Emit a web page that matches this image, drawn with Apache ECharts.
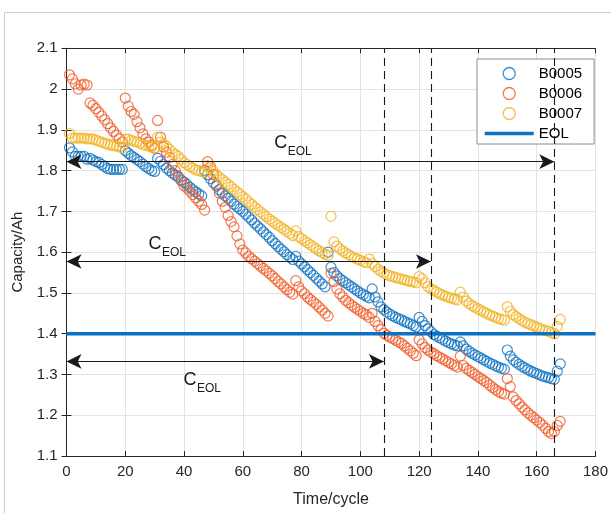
<!DOCTYPE html>
<html>
<head>
<meta charset="utf-8">
<script src="https://cdn.jsdelivr.net/npm/echarts@6/dist/echarts.min.js"></script>
<style>
html, body { margin: 0; padding: 0; background: #ffffff; }
#chart { width: 611px; height: 513px; }
</style>
</head>
<body>
<div id="chart"></div>
<script>
// Discharge capacity (Ah) per cycle, cycles 1..168
const b0005 = [
  1.856, 1.846, 1.835, 1.835, 1.835, 1.835, 1.828, 1.830, 1.826, 1.822,
  1.820, 1.815, 1.810, 1.805, 1.803, 1.803, 1.803, 1.803, 1.803, 1.849,
  1.843, 1.837, 1.832, 1.827, 1.822, 1.816, 1.810, 1.805, 1.800, 1.798,
  1.830, 1.823, 1.815, 1.806, 1.800, 1.794, 1.789, 1.784, 1.777, 1.772,
  1.766, 1.759, 1.753, 1.748, 1.743, 1.738, 1.800, 1.790, 1.780, 1.770,
  1.762, 1.753, 1.745, 1.738, 1.732, 1.725, 1.718, 1.712, 1.706, 1.700,
  1.693, 1.686, 1.679, 1.671, 1.664, 1.657, 1.650, 1.643, 1.636, 1.628,
  1.621, 1.614, 1.607, 1.601, 1.594, 1.588, 1.582, 1.590, 1.578, 1.571,
  1.564, 1.557, 1.550, 1.543, 1.536, 1.529, 1.522, 1.515, 1.600, 1.563,
  1.550, 1.542, 1.535, 1.530, 1.525, 1.520, 1.515, 1.510, 1.505, 1.500,
  1.496, 1.492, 1.488, 1.510, 1.490, 1.478, 1.466, 1.459, 1.453, 1.448,
  1.444, 1.440, 1.437, 1.434, 1.430, 1.427, 1.424, 1.420, 1.417, 1.440,
  1.430, 1.420, 1.412, 1.405, 1.398, 1.394, 1.390, 1.386, 1.382, 1.378,
  1.375, 1.372, 1.370, 1.380, 1.370, 1.362, 1.357, 1.352, 1.348, 1.344,
  1.340, 1.336, 1.332, 1.328, 1.325, 1.321, 1.318, 1.315, 1.313, 1.360,
  1.345, 1.336, 1.330, 1.325, 1.320, 1.316, 1.312, 1.308, 1.305, 1.302,
  1.299, 1.296, 1.294, 1.292, 1.290, 1.288, 1.308, 1.326
];
const b0006 = [
  2.035, 2.025, 2.013, 2.000, 2.010, 2.012, 2.010, 1.966, 1.960, 1.952,
  1.943, 1.934, 1.925, 1.915, 1.905, 1.896, 1.887, 1.878, 1.870, 1.978,
  1.958, 1.945, 1.938, 1.920, 1.905, 1.890, 1.878, 1.870, 1.862, 1.855,
  1.923, 1.882, 1.858, 1.845, 1.832, 1.815, 1.800, 1.787, 1.775, 1.763,
  1.757, 1.749, 1.741, 1.733, 1.725, 1.717, 1.703, 1.822, 1.810, 1.790,
  1.765, 1.745, 1.725, 1.710, 1.690, 1.675, 1.662, 1.640, 1.620, 1.605,
  1.598, 1.590, 1.584, 1.578, 1.572, 1.566, 1.560, 1.554, 1.548, 1.542,
  1.535, 1.528, 1.522, 1.515, 1.508, 1.502, 1.497, 1.530, 1.515, 1.505,
  1.498, 1.490, 1.484, 1.478, 1.472, 1.465, 1.458, 1.450, 1.443, 1.548,
  1.528, 1.510, 1.498, 1.490, 1.482, 1.476, 1.470, 1.465, 1.460, 1.455,
  1.450, 1.446, 1.440, 1.450, 1.430, 1.420, 1.410, 1.401, 1.396, 1.392,
  1.388, 1.384, 1.380, 1.376, 1.370, 1.364, 1.358, 1.352, 1.346, 1.385,
  1.375, 1.366, 1.360, 1.355, 1.351, 1.346, 1.342, 1.338, 1.334, 1.330,
  1.326, 1.322, 1.318, 1.345, 1.322, 1.315, 1.310, 1.305, 1.300, 1.295,
  1.290, 1.285, 1.280, 1.274, 1.268, 1.263, 1.258, 1.254, 1.252, 1.290,
  1.270, 1.245, 1.236, 1.228, 1.220, 1.213, 1.206, 1.200, 1.194, 1.188,
  1.182, 1.176, 1.168, 1.160, 1.155, 1.160, 1.175, 1.185
];
const b0007 = [
  1.891, 1.880, 1.880, 1.880, 1.880, 1.880, 1.878, 1.878, 1.877, 1.875,
  1.872, 1.870, 1.867, 1.865, 1.863, 1.861, 1.860, 1.858, 1.856, 1.877,
  1.877, 1.874, 1.872, 1.870, 1.867, 1.864, 1.862, 1.860, 1.858, 1.855,
  1.882, 1.870, 1.865, 1.860, 1.852, 1.845, 1.840, 1.835, 1.828, 1.820,
  1.815, 1.810, 1.806, 1.802, 1.800, 1.798, 1.796, 1.812, 1.805, 1.798,
  1.790, 1.784, 1.778, 1.772, 1.766, 1.760, 1.754, 1.748, 1.742, 1.736,
  1.730, 1.723, 1.717, 1.711, 1.705, 1.699, 1.693, 1.687, 1.681, 1.676,
  1.671, 1.666, 1.661, 1.656, 1.651, 1.646, 1.641, 1.652, 1.638, 1.633,
  1.628, 1.623, 1.618, 1.613, 1.608, 1.603, 1.599, 1.595, 1.592, 1.688,
  1.625, 1.615, 1.608, 1.603, 1.598, 1.594, 1.590, 1.586, 1.583, 1.580,
  1.577, 1.574, 1.583, 1.572, 1.565, 1.558, 1.553, 1.549, 1.545, 1.542,
  1.540, 1.538, 1.536, 1.534, 1.532, 1.530, 1.528, 1.527, 1.525, 1.540,
  1.535, 1.525, 1.515, 1.510, 1.506, 1.502, 1.498, 1.495, 1.492, 1.489,
  1.487, 1.485, 1.483, 1.502, 1.490, 1.480, 1.474, 1.469, 1.465, 1.461,
  1.457, 1.453, 1.450, 1.446, 1.443, 1.440, 1.437, 1.435, 1.433, 1.466,
  1.455, 1.447, 1.442, 1.437, 1.432, 1.428, 1.425, 1.422, 1.419, 1.416,
  1.413, 1.410, 1.408, 1.406, 1.403, 1.400, 1.418, 1.435
];

const seriesNames = ['B0005', 'B0006', 'B0007'];
const seriesColors = ['#0d72c2', '#f05a26', '#f2b11f'];
const eolName = 'EOL';
const eolColor = '#0d72c2';
const eolCapacity = 1.4;

// Cycle at which each battery reaches end of life, with the capacity level
// of the matching C_EOL span and where its label sits (cycle, capacity)
const eolCycles = [108, 124, 166];
const spanLevels = [1.332, 1.577, 1.822];
const spanLabels = [[42.0, 1.287], [30.1, 1.621], [72.9, 1.868]];

const xMin = 0, xMax = 180, xStep = 20;
const yMin = 1.1, yMax = 2.1, yStep = 0.1;

const FONT = '"Liberation Sans", Arial, Helvetica, sans-serif';
const INK = '#262626';

const chart = echarts.init(document.getElementById('chart'), null, { renderer: 'canvas' });

const toPoints = arr => arr.map((v, i) => [i + 1, v]);

const scatterSeries = [b0005, b0006, b0007].map((arr, k) => ({
  name: seriesNames[k],
  type: 'scatter',
  data: toPoints(arr),
  symbol: 'circle',
  symbolSize: 10,
  itemStyle: { color: 'rgba(0,0,0,0)', borderColor: seriesColors[k], borderWidth: 1.2 },
  emphasis: { disabled: true },
  silent: true,
  z: 2
}));

const baseX = {
  type: 'value', min: xMin, max: xMax, interval: xStep,
  axisLine: { show: true, lineStyle: { color: INK, width: 1 } },
  axisTick: { show: true, inside: true, length: 5, lineStyle: { color: INK } }
};
const baseY = {
  type: 'value', min: yMin, max: yMax, interval: yStep,
  axisLine: { show: true, lineStyle: { color: INK, width: 1 } },
  axisTick: { show: true, inside: true, length: 5, lineStyle: { color: INK } }
};

const option = {
  animation: false,
  backgroundColor: '#ffffff',
  textStyle: { fontFamily: FONT },
  grid: { left: 66.5, right: 15.5, top: 48.3, bottom: 48, containLabel: false },
  legend: {
    data: [
      ...seriesNames.map(n => ({ name: n, itemStyle: { borderWidth: 1.3 } })),
      { name: eolName, itemStyle: { opacity: 0 }, lineStyle: { width: 3.5, color: eolColor } }
    ],
    orient: 'vertical',
    left: 477, top: 59,
    padding: [7, 12, 3, 6],
    itemWidth: 49, itemHeight: 12, itemGap: 5,
    backgroundColor: '#ffffff',
    borderColor: '#8c8c8c', borderWidth: 1, borderRadius: 0,
    textStyle: { fontFamily: FONT, fontSize: 15, color: '#000000' },
    selectedMode: false
  },
  xAxis: [
    Object.assign({}, baseX, {
      position: 'bottom',
      name: 'Time/cycle', nameLocation: 'middle', nameGap: 36,
      nameTextStyle: { fontFamily: FONT, fontSize: 16, color: INK },
      axisLabel: { show: true, margin: 8, fontFamily: FONT, fontSize: 15, color: INK },
      splitLine: { show: true, lineStyle: { color: '#e3e3e3', width: 1 } }
    }),
    Object.assign({}, baseX, {
      position: 'top',
      axisLabel: { show: false },
      splitLine: { show: false }
    })
  ],
  yAxis: [
    Object.assign({}, baseY, {
      position: 'left',
      name: 'Capacity/Ah', nameLocation: 'middle', nameGap: 40,
      nameTextStyle: { fontFamily: FONT, fontSize: 15, color: INK },
      axisLabel: {
        show: true, margin: 9, fontFamily: FONT, fontSize: 15, color: INK,
        formatter: v => String(+v.toFixed(1))
      },
      splitLine: { show: true, lineStyle: { color: '#e3e3e3', width: 1 } }
    }),
    Object.assign({}, baseY, {
      position: 'right',
      axisLabel: { show: false },
      splitLine: { show: false }
    })
  ],
  series: [
    ...scatterSeries,
    {
      name: eolName,
      type: 'line',
      data: [[xMin, eolCapacity], [xMax, eolCapacity]],
      symbol: 'none',
      lineStyle: { color: eolColor, width: 3.5 },
      itemStyle: { color: eolColor },
      silent: true,
      z: 3
    },
    {
      // C_EOL spans: double arrows from cycle 0 to each end-of-life cycle
      name: 'spans',
      type: 'line',
      data: [],
      silent: true,
      z: 4,
      markLine: {
        silent: true,
        animation: false,
        symbol: ['arrow', 'arrow'],
        symbolSize: [11, 15],
        label: { show: false },
        lineStyle: { color: '#1a1a1a', width: 1, type: 'solid' },
        emphasis: { disabled: true },
        data: eolCycles.map((c, i) => [
          { coord: [xMin, spanLevels[i]] },
          { coord: [c, spanLevels[i]] }
        ])
      }
    },
    {
      // dashed markers at each end-of-life cycle
      name: 'eolCycles',
      type: 'line',
      data: [],
      silent: true,
      z: 5,
      markLine: {
        silent: true,
        animation: false,
        symbol: ['none', 'none'],
        label: { show: false },
        lineStyle: { color: '#1a1a1a', width: 1.1, type: [8, 5] },
        emphasis: { disabled: true },
        data: eolCycles.map(c => ({ xAxis: c }))
      }
    }
  ]
};

chart.setOption(option);

// Figure frame and the C_EOL labels, placed from data coordinates
const graphics = [{
  type: 'rect',
  silent: true,
  z: -10,
  shape: { x: 4.5, y: 12.5, width: 900, height: 900 },
  style: { fill: 'none', stroke: '#cdcdcd', lineWidth: 1 }
}];
spanLabels.forEach(([cx, cy]) => {
  const [px, py] = chart.convertToPixel({ gridIndex: 0 }, [cx, cy]);
  graphics.push({
    type: 'text', silent: true, z: 10, x: px, y: py,
    style: {
      text: 'C', fontFamily: FONT, fontSize: 18, fill: '#1a1a1a',
      align: 'center', verticalAlign: 'middle',
      textAlign: 'center', textVerticalAlign: 'middle'
    }
  });
  graphics.push({
    type: 'text', silent: true, z: 10, x: px + 7, y: py + 9,
    style: {
      text: 'EOL', fontFamily: FONT, fontSize: 12, fill: '#1a1a1a',
      align: 'left', verticalAlign: 'middle',
      textAlign: 'left', textVerticalAlign: 'middle'
    }
  });
});
chart.setOption({ graphic: graphics });
</script>
</body>
</html>
